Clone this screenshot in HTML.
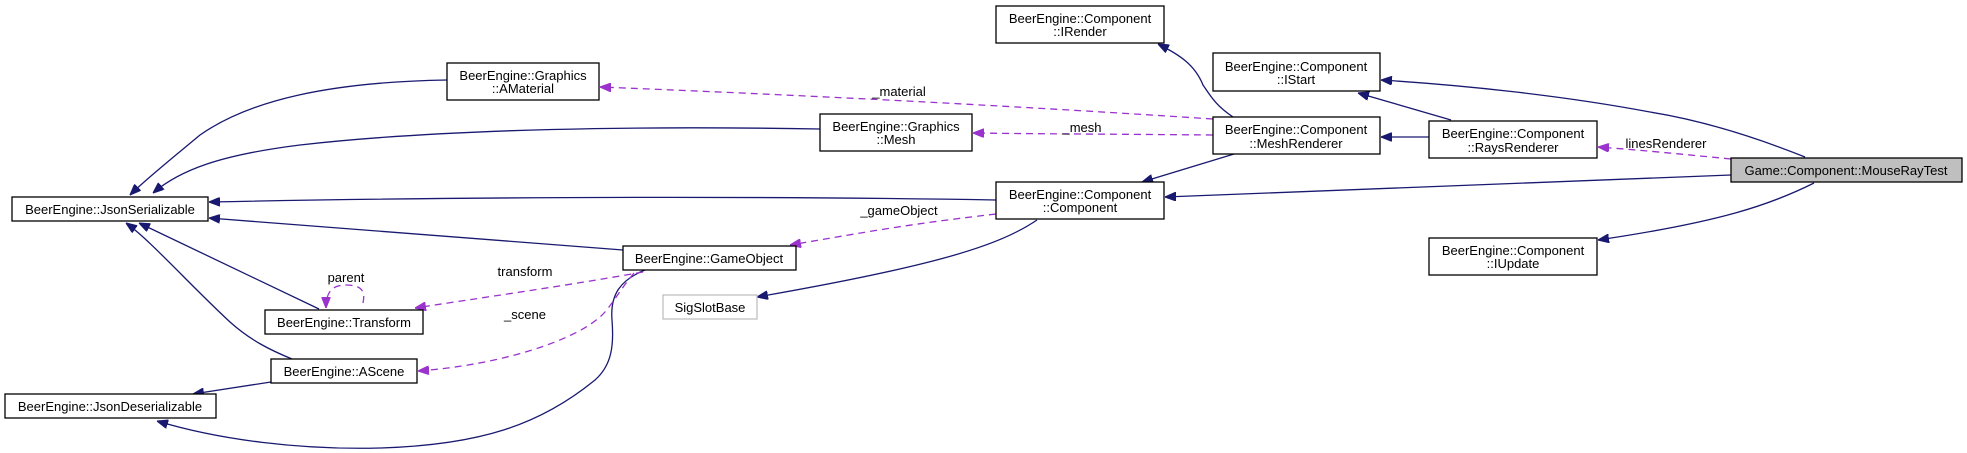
<!DOCTYPE html>
<html><head><meta charset="utf-8"><style>
html,body{margin:0;padding:0;background:#fff;width:1967px;height:453px;overflow:hidden}
svg text{font-family:"Liberation Sans",Arial,sans-serif;font-size:13px;fill:#000}
</style></head><body>
<svg width="1967" height="453" viewBox="0 0 1967 453" xmlns="http://www.w3.org/2000/svg">
<defs>
<marker id="an" viewBox="0 0 10 8" refX="10" refY="4" markerWidth="11" markerHeight="9" markerUnits="userSpaceOnUse" orient="auto"><path d="M0,0 L10,4 L0,8 z" fill="#191970" stroke="#191970"/></marker>
<marker id="ap" viewBox="0 0 10 8" refX="10" refY="4" markerWidth="11" markerHeight="9" markerUnits="userSpaceOnUse" orient="auto"><path d="M0,0 L10,4 L0,8 z" fill="#9a32cd" stroke="#9a32cd"/></marker>
</defs>
<g fill="none" stroke="#191970" stroke-width="1.3">
<path d="M447,80 C330,82 250,100 200,135 C170,160 145,180 130,195" marker-end="url(#an)"/>
<path d="M820,129 C650,126 450,128 300,145 C220,155 180,170 153,193" marker-end="url(#an)"/>
<path d="M996,200 C700,195 400,198 209,202" marker-end="url(#an)"/>
<path d="M623,250 L209,218" marker-end="url(#an)"/>
<path d="M319,309 L139,223" marker-end="url(#an)"/>
<path d="M292,359 C270,350 250,340 230,322 C190,285 150,240 126,223" marker-end="url(#an)"/>
<path d="M271,382 L193,394" marker-end="url(#an)"/>
<path d="M645,270 C620,280 610,295 612,320 C614,345 612,365 595,380 C540,425 480,445 380,448 C300,450 220,440 157,421" marker-end="url(#an)"/>
<path d="M1037,220 C1000,245 940,265 757,297" marker-end="url(#an)"/>
<path d="M1233,117 C1215,105 1210,95 1203,85 C1195,65 1180,55 1158,44" marker-end="url(#an)"/>
<path d="M1234,154 L1142,182" marker-end="url(#an)"/>
<path d="M1731,175 L1165,197" marker-end="url(#an)"/>
<path d="M1451,120 L1358,93" marker-end="url(#an)"/>
<path d="M1429,137 L1381,137" marker-end="url(#an)"/>
<path d="M1805,157 C1750,135 1700,120 1650,112 C1560,95 1460,85 1381,80" marker-end="url(#an)"/>
<path d="M1814,183 C1770,205 1720,222 1598,240" marker-end="url(#an)"/>
</g>
<g fill="none" stroke="#9a32cd" stroke-width="1.3" stroke-dasharray="7,5">
<path d="M1213,119 C1000,105 800,95 600,87" marker-end="url(#ap)"/>
<path d="M1213,135 C1100,134 1050,134 973,133" marker-end="url(#ap)"/>
<path d="M996,214 C900,225 850,235 790,245" marker-end="url(#ap)"/>
<path d="M643,272 C570,285 500,295 415,308" marker-end="url(#ap)"/>
<path d="M634,273 C620,290 615,300 605,312 C580,340 500,365 418,371" marker-end="url(#ap)"/>
<path d="M363,303 C366,290 360,285 346,285 C332,285 326,292 326,308" marker-end="url(#ap)"/>
<path d="M1731,159 C1680,154 1640,150 1598,147" marker-end="url(#ap)"/>
</g>
<g font-family="Liberation Sans" text-anchor="middle">
<text x="899" y="96">_material</text>
<text x="1082" y="132">_mesh</text>
<text x="899" y="215">_gameObject</text>
<text x="525" y="276">transform</text>
<text x="525" y="319">_scene</text>
<text x="346" y="282">parent</text>
<text x="1666" y="148">linesRenderer</text>
</g>
<g stroke="#000" stroke-width="1.3" fill="#fff">
<rect x="447" y="63" width="152" height="37"/>
<rect x="820" y="114" width="152" height="37"/>
<rect x="996" y="6" width="168" height="37"/>
<rect x="1213" y="53" width="167" height="38"/>
<rect x="1213" y="117" width="167" height="37"/>
<rect x="1429" y="121" width="168" height="37"/>
<rect x="1429" y="238" width="168" height="37"/>
<rect x="996" y="182" width="168" height="37"/>
<rect x="1731" y="158" width="231" height="24" fill="#bfbfbf"/>
<rect x="12" y="197" width="196" height="24"/>
<rect x="623" y="246" width="173" height="24"/>
<rect x="265" y="310" width="158" height="24"/>
<rect x="271" y="359" width="146" height="24"/>
<rect x="5" y="394" width="211" height="24"/>
<rect x="663" y="295" width="94" height="24" stroke="#bfbfbf"/>
</g>
<g text-anchor="middle">
<text x="523" y="80">BeerEngine::Graphics</text><text x="523" y="93">::AMaterial</text>
<text x="896" y="131">BeerEngine::Graphics</text><text x="896" y="144">::Mesh</text>
<text x="1080" y="23">BeerEngine::Component</text><text x="1080" y="36">::IRender</text>
<text x="1296" y="71">BeerEngine::Component</text><text x="1296" y="84">::IStart</text>
<text x="1296" y="134">BeerEngine::Component</text><text x="1296" y="148">::MeshRenderer</text>
<text x="1513" y="138">BeerEngine::Component</text><text x="1513" y="152">::RaysRenderer</text>
<text x="1513" y="255">BeerEngine::Component</text><text x="1513" y="268">::IUpdate</text>
<text x="1080" y="199">BeerEngine::Component</text><text x="1080" y="212">::Component</text>
<text x="1846" y="175">Game::Component::MouseRayTest</text>
<text x="110" y="214">BeerEngine::JsonSerializable</text>
<text x="709" y="263">BeerEngine::GameObject</text>
<text x="344" y="327">BeerEngine::Transform</text>
<text x="344" y="376">BeerEngine::AScene</text>
<text x="110" y="411">BeerEngine::JsonDeserializable</text>
<text x="710" y="312">SigSlotBase</text>
</g>
</svg>
</body></html>
